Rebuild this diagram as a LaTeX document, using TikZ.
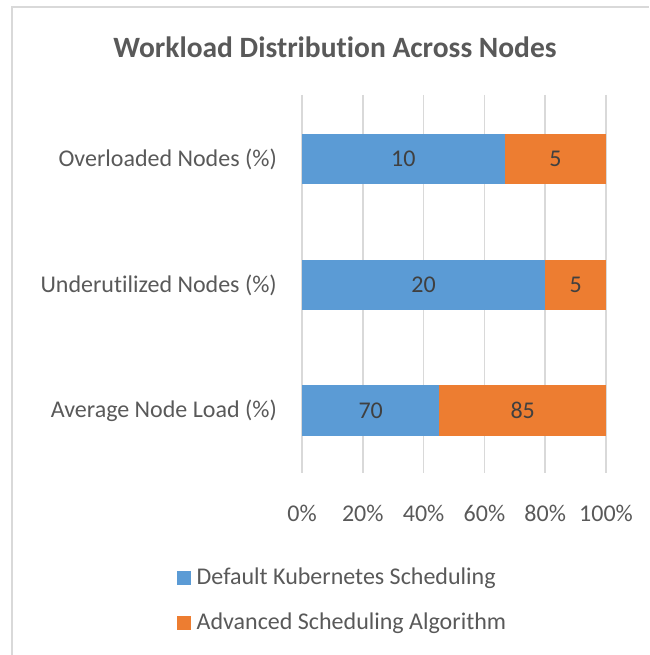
\documentclass[tikz,border=0pt]{standalone}
\usepackage{fontspec}
\setmainfont{Carlito}[Ligatures={NoCommon}]
\usepackage{tikz}
\usetikzlibrary{positioning}
\definecolor{ksblue}{HTML}{5B9BD5}
\definecolor{ksorange}{HTML}{ED7D31}
\definecolor{txtgray}{HTML}{595959}
\definecolor{lblgray}{HTML}{404040}
\definecolor{gridgray}{HTML}{D9D9D9}

\begin{document}
\begin{tikzpicture}[x=1pt, y=-1pt, font=\fontsize{24}{28}\selectfont, text=txtgray]
      \useasboundingbox (0,0) rectangle (649,655);
      \tikzset{barlabel/.style={text=lblgray},
               catlabel/.style={anchor=east, inner sep=0pt},
               legbox/.style={minimum size=14pt, inner sep=0pt}}
      % frame of the chart
      \draw[gridgray, line width=2pt] (12,655) -- (12,7) -- (649,7);
      \node[font=\bfseries\fontsize{29.5}{34}\selectfont] (title) at (335,47) {Workload Distribution Across Nodes};
      % grid lines and tick labels
      \foreach \p in {0,20,...,100} {
        \draw[gridgray, line width=1.5pt] (302+3.04*\p,95) -- (302+3.04*\p,473);
        \node (tick\p) at (302+3.04*\p,513) {\p\%};
      }
      % bars (100% stacked)
      \fill[ksblue] (302,134) rectangle (504.7,184);
      \fill[ksorange] (504.7,134) rectangle (606,184);
      \fill[ksblue] (302,260) rectangle (545.2,310);
      \fill[ksorange] (545.2,260) rectangle (606,310);
      \fill[ksblue] (302,385) rectangle (439.3,436);
      \fill[ksorange] (439.3,385) rectangle (606,436);
      \node[barlabel] (ovdef) at (403.4,159) {10};
      \node[barlabel] (ovadv) at (555.4,159) {5};
      \node[barlabel] (undef) at (423.6,285) {20};
      \node[barlabel] (unadv) at (575.6,285) {5};
      \node[barlabel] (avdef) at (370.7,410.5) {70};
      \node[barlabel] (avadv) at (522.7,410.5) {85};
      % category labels
      \node[catlabel] (over) at (277,159) {Overloaded Nodes (\%)};
      \node[catlabel] (under) at (277,285) {Underutilized Nodes (\%)};
      \node[catlabel] (avg) at (277,410.5) {Average Node Load (\%)};
      % legend
      \node[legbox, fill=ksblue] (sqdef) at (184,578) {};
      \node[right=2pt of sqdef] (lgdef) {Default Kubernetes Scheduling};
      \node[legbox, fill=ksorange] (sqadv) at (184,623) {};
      \node[right=2pt of sqadv] (lgadv) {Advanced Scheduling Algorithm};
    \end{tikzpicture}
\end{document}
